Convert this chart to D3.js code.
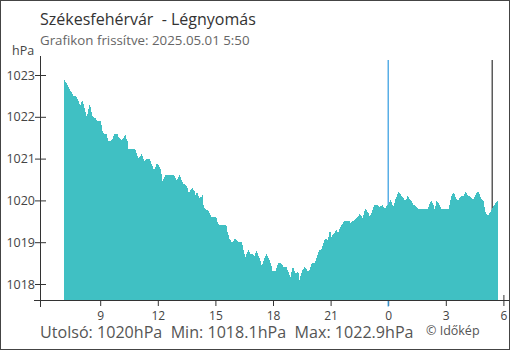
<!DOCTYPE html>
<html>
<head>
<meta charset="utf-8">
<script src="https://cdn.jsdelivr.net/npm/d3@7"></script>
<style>
  body { margin: 0; background: #fff; }
  svg { display: block; font-family: "Open Sans", sans-serif; }
  text { white-space: pre; }
</style>
</head>
<body>
<svg id="chart" width="510" height="350"></svg>
<script>
// Légnyomás, Székesfehérvár, 2025.04.30 – 05.01 (hPa)
const times = [
  "07:07","07:16","07:20","07:25","07:31","07:36","07:44","07:47","07:51","07:54","07:57",
  "08:00","08:04","08:07","08:10","08:14","08:18","08:23","08:26","08:30","08:33","08:36","08:41","08:47","08:51",
  "09:01","09:04","09:08","09:12","09:20","09:23","09:27","09:36","09:41","09:44","09:54","09:58",
  "10:03","10:07","10:11","10:15","10:18","10:21","10:26","10:27","10:50","10:53","10:56",
  "11:00","11:04","11:09","11:12","11:16","11:19","11:23","11:27","11:34","11:38","11:41","11:45","11:48","11:53","11:57",
  "12:01","12:05","12:09","12:12","12:15","12:19","12:24","12:51","12:55","12:58",
  "13:03","13:08","13:12","13:15","13:20","13:29","13:33","13:36","13:39","13:43","13:48","13:52","13:55","13:58",
  "14:03","14:06","14:09","14:17","14:20","14:23","14:27","14:37","14:43","14:48",
  "15:03","15:08","15:11","15:34","15:38","15:42","15:45","15:51","15:56",
  "16:01","16:06","16:11","16:23","16:27","16:30","16:34","16:38","16:40","16:43","16:47","16:50","16:58",
  "17:01","17:05","17:08","17:12","17:16","17:21","17:24","17:29","17:32","17:36","17:39","17:43","17:48","17:52","17:57","17:58",
  "18:08","18:12","18:16","18:26","18:29","18:33","18:42","18:45","18:49","18:52","18:55","18:58",
  "19:02","19:06","19:09","19:12","19:16","19:18","19:21","19:23","19:29","19:32","19:36","19:39","19:44","19:48","19:53","19:58",
  "20:01","20:09","20:13","20:18","20:21","20:24","20:32","20:36","20:39","20:42","20:47","20:52","20:55","20:58",
  "21:03","21:06","21:10","21:14","21:18","21:22","21:26","21:29","21:34","21:37","21:41","21:45",
  "22:00","22:03","22:07","22:15","22:21","22:26","22:31","22:36","22:41","22:44","22:48","22:52","22:57",
  "23:02","23:08","23:12","23:16","23:28","23:31","23:39","23:42","23:46","23:52","23:56",
  "00:02","00:05","00:08","00:12","00:16","00:19","00:23","00:28","00:31","00:36","00:42","00:47","00:52","00:57",
  "01:00","01:05","01:10","01:14","01:18","01:27","01:33",
  "02:03","02:06","02:10","02:16","02:19","02:23","02:26","02:29","02:32","02:36","02:41","02:46",
  "03:08","03:11","03:15","03:19","03:23","03:27","03:32","03:36","03:40","03:44","03:49","03:57",
  "04:01","04:05","04:09","04:18","04:22","04:26","04:30","04:34","04:38","04:42","04:47","04:51","04:57",
  "05:00","05:03","05:08","05:11","05:15","05:20","05:24","05:28","05:33","05:39","05:42"
];
const pressure = [
  1022.90,1022.78,1022.72,1022.64,1022.59,1022.50,1022.50,1022.45,1022.40,1022.34,1022.24,
  1022.34,1022.40,1022.32,1022.23,1022.12,1021.98,1022.16,1022.28,1022.23,1022.12,1022.03,1021.99,1021.95,1021.90,
  1021.90,1021.80,1021.64,1021.59,1021.58,1021.49,1021.40,1021.44,1021.52,1021.59,1021.59,1021.50,
  1021.47,1021.43,1021.49,1021.52,1021.59,1021.49,1021.40,1021.22,1021.22,1021.15,1021.06,
  1021.01,1021.05,1021.10,1021.06,1020.98,1020.93,1020.98,1020.99,1020.99,1020.93,1020.85,1020.79,1020.73,1020.81,1020.89,
  1020.86,1020.81,1020.73,1020.61,1020.46,1020.53,1020.61,1020.61,1020.55,1020.49,
  1020.53,1020.60,1020.55,1020.47,1020.39,1020.37,1020.29,1020.21,1020.21,1020.25,1020.30,1020.25,1020.21,1020.13,
  1020.21,1020.13,1020.05,1020.09,1020.12,1019.87,1019.79,1019.77,1019.69,1019.60,
  1019.60,1019.45,1019.41,1019.41,1019.25,1019.13,1019.07,1019.01,1019.01,
  1019.11,1019.05,1019.01,1019.01,1018.85,1018.73,1018.65,1018.72,1018.77,1018.81,1018.77,1018.72,1018.72,
  1018.64,1018.72,1018.80,1018.73,1018.65,1018.56,1018.45,1018.51,1018.59,1018.65,1018.72,1018.67,1018.59,1018.51,1018.39,1018.32,
  1018.32,1018.41,1018.50,1018.50,1018.45,1018.41,1018.41,1018.35,1018.27,1018.20,1018.17,1018.29,
  1018.41,1018.35,1018.26,1018.24,1018.29,1018.29,1018.23,1018.10,1018.26,1018.32,1018.38,1018.41,1018.38,1018.32,1018.32,1018.43,
  1018.50,1018.50,1018.56,1018.65,1018.75,1018.81,1018.83,1018.93,1019.01,1019.09,1019.07,1019.05,1019.19,1019.29,
  1019.13,1019.17,1019.21,1019.25,1019.29,1019.25,1019.25,1019.35,1019.41,1019.44,1019.50,1019.51,
  1019.51,1019.45,1019.51,1019.52,1019.57,1019.61,1019.69,1019.63,1019.57,1019.69,1019.79,1019.77,1019.71,
  1019.63,1019.69,1019.81,1019.89,1019.89,1019.83,1019.87,1019.89,1019.83,1019.83,1019.89,
  1019.91,1019.97,1020.01,1019.93,1019.85,1019.93,1020.03,1020.13,1020.21,1020.17,1020.11,1020.06,1019.99,1020.03,
  1020.11,1020.06,1020.01,1019.97,1019.89,1019.87,1019.79,
  1019.79,1019.85,1019.93,1019.99,1019.93,1019.85,1019.77,1019.91,1020.01,1019.94,1019.89,1019.79,
  1019.79,1019.87,1020.01,1020.13,1020.19,1020.15,1020.06,1020.01,1020.01,1020.06,1020.10,1020.11,
  1020.21,1020.17,1020.11,1020.09,1020.03,1020.01,1020.09,1020.15,1020.19,1020.21,1020.11,1020.03,1020.01,
  1019.89,1019.75,1019.67,1019.63,1019.67,1019.73,1019.79,1019.85,1019.91,1019.97,1020.00
];
const yTicks = [1018, 1019, 1020, 1021, 1022, 1023];
const xTickTimes = ["09:00","12:00","15:00","18:00","21:00","00:00","03:00","06:00"];
const xTickLabels = ["9","12","15","18","21","0","3","6"];
const dayStart = "06:00";
const dayBreak = "00:00";
const sunrise = "05:25";

const title = "Székesfehérvár  - Légnyomás";
const subtitle = "Grafikon frissítve: 2025.05.01 5:50";
const unit = "hPa";
const stats = "Utolsó: 1020hPa  Min: 1018.1hPa  Max: 1022.9hPa";
const credit = "© Időkép";

// times before 06:00 belong to the next day
const parseHM = d3.timeParse("%Y-%m-%d %H:%M");
function toDate(hm, forceNext) {
  const next = forceNext || hm < dayStart;
  return parseHM((next ? "2025-05-01 " : "2025-04-30 ") + hm);
}
const data = times.map((t, i) => ({ t: toDate(t), v: pressure[i] }));

const svg = d3.select("#chart");
const W = 510, H = 350;

const x = d3.scaleTime()
  .domain([toDate(dayStart), toDate(dayStart, true)])
  .range([42.6, 503.4]);
const y = d3.scaleLinear()
  .domain([1018, 1023])
  .range([284, 75]);
const plotBottom = 300, plotTop = 56;

// frame
svg.append("rect")
  .attr("x", 0.5).attr("y", 0.5)
  .attr("width", W - 1).attr("height", H - 1)
  .attr("fill", "none").attr("stroke", "#444");

// axes (ticks only, domain lines drawn later on top)
const xAxis = d3.axisBottom(x)
  .tickValues(xTickTimes.map((t, i) => toDate(t, i === xTickTimes.length - 1)))
  .tickFormat((d, i) => xTickLabels[i])
  .tickSize(6).tickPadding(5);
svg.append("g")
  .attr("transform", `translate(0,${plotBottom})`)
  .call(xAxis)
  .call(g => g.select(".domain").remove())
  .call(g => g.selectAll(".tick line").attr("y1", -5).attr("stroke", "#333"))
  .call(g => g.selectAll("text").attr("fill", "#444").style("font-size", "12px").style("font-family", "Open Sans"));

const yAxis = d3.axisLeft(y).tickValues(yTicks).tickFormat(d3.format("d")).tickSize(5).tickPadding(0);
svg.append("g")
  .attr("transform", "translate(40,0)")
  .call(yAxis)
  .call(g => g.select(".domain").remove())
  .call(g => g.selectAll(".tick line").attr("x1", 6).attr("stroke", "#333"))
  .call(g => g.selectAll("text").attr("fill", "#444").style("font-size", "12.5px").style("font-family", "Open Sans"));

// midnight and sunrise markers
svg.append("line")
  .attr("x1", x(toDate(dayBreak))).attr("x2", x(toDate(dayBreak)))
  .attr("y1", 60).attr("y2", plotBottom + 6.5)
  .attr("stroke", "#2f9be0").attr("stroke-width", 1.2);
svg.append("line")
  .attr("x1", x(toDate(sunrise))).attr("x2", x(toDate(sunrise)))
  .attr("y1", 60).attr("y2", plotBottom)
  .attr("stroke", "#333").attr("stroke-width", 1.2);

// pressure area
const area = d3.area()
  .x(d => x(d.t))
  .y0(plotBottom)
  .y1(d => y(d.v))
  .curve(d3.curveLinear);
svg.append("path")
  .datum(data)
  .attr("d", area)
  .attr("fill", "#40c0c3")
  .attr("shape-rendering", "crispEdges");

// axis lines
svg.append("line")
  .attr("x1", 34).attr("x2", W - 1)
  .attr("y1", plotBottom + 0.5).attr("y2", plotBottom + 0.5)
  .attr("stroke", "#333");
svg.append("line")
  .attr("x1", 40.5).attr("x2", 40.5)
  .attr("y1", plotTop).attr("y2", plotBottom + 7)
  .attr("stroke", "#333");

// texts
svg.append("text").attr("x", 40).attr("y", 25)
  .attr("fill", "#333").style("font-size", "16px").text(title);
svg.append("text").attr("x", 40).attr("y", 45)
  .attr("fill", "#666").style("font-size", "13.3px").text(subtitle);
svg.append("text").attr("x", 12).attr("y", 55)
  .attr("fill", "#444").style("font-size", "12.5px").text(unit);
svg.append("text").attr("x", 40).attr("y", 338)
  .attr("fill", "#555").style("font-size", "16.1px").text(stats);
svg.append("text").attr("x", 426).attr("y", 335)
  .attr("fill", "#555").style("font-size", "12.5px").text(credit);
</script>
</body>
</html>
